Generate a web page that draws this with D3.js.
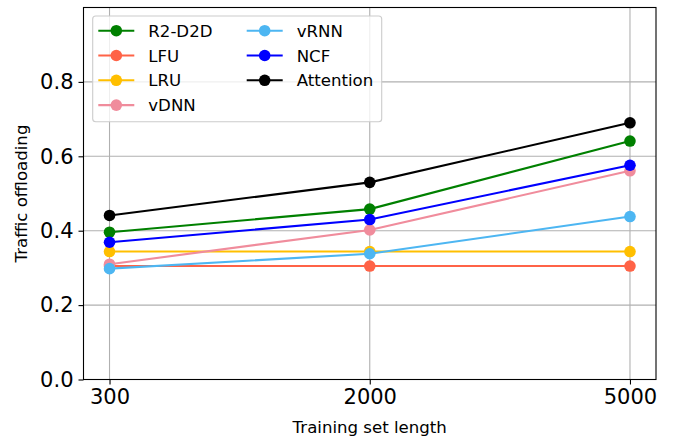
<!DOCTYPE html>
<html>
<head>
<meta charset="utf-8">
<script src="https://cdn.jsdelivr.net/npm/d3@7"></script>
<style>
  body { margin: 0; background: #fff; }
  svg { font-family: "DejaVu Sans", sans-serif; }
</style>
</head>
<body>
<svg id="chart" width="674" height="439"></svg>
<script>
"use strict";

// data
const lengths = ["300", "2000", "5000"];
const seriesNames = ["R2-D2D", "LFU", "LRU", "vDNN", "vRNN", "NCF", "Attention"];
const seriesColors = ["#008000", "#ff6347", "#ffbf00", "#f08c9c", "#4db6f2", "#0000ff", "#000000"];
const r2d2d = [0.396, 0.458, 0.641];
const lfu = [0.305, 0.305, 0.305];
const lru = [0.344, 0.344, 0.344];
const vdnn = [0.310, 0.402, 0.561];
const vrnn = [0.298, 0.338, 0.438];
const ncf = [0.369, 0.430, 0.576];
const attention = [0.441, 0.530, 0.690];
const yTicks = [0.0, 0.2, 0.4, 0.6, 0.8];

const allValues = [r2d2d, lfu, lru, vdnn, vrnn, ncf, attention];

const plotL = 83.5, plotR = 656, plotT = 7.5, plotB = 379.5;
const svg = d3.select("#chart");

// categorical x placed on an index axis with matplotlib-like margins
const x = d3.scaleLinear().domain([-0.1, 2.1]).range([plotL, plotR]);
const y = d3.scaleLinear().domain([0, 1.0]).range([plotB, plotT]);

// grid
svg.append("g")
  .selectAll("line")
  .data(lengths)
  .join("line")
  .attr("x1", (d, i) => x(i)).attr("x2", (d, i) => x(i))
  .attr("y1", plotT).attr("y2", plotB)
  .attr("stroke", "#b0b0b0").attr("stroke-width", 1.1);
svg.append("g")
  .selectAll("line")
  .data(yTicks)
  .join("line")
  .attr("x1", plotL).attr("x2", plotR)
  .attr("y1", d => y(d)).attr("y2", d => y(d))
  .attr("stroke", "#b0b0b0").attr("stroke-width", 1.1);

// axes
const xAxis = svg.append("g")
  .attr("transform", `translate(0,${plotB})`)
  .call(d3.axisBottom(x).tickValues([0, 1, 2]).tickFormat(i => lengths[i]).tickSize(5).tickPadding(5));
const yAxis = svg.append("g")
  .attr("transform", `translate(${plotL},0)`)
  .call(d3.axisLeft(y).tickValues(yTicks).tickFormat(d3.format(".1f")).tickSize(5).tickPadding(5));
[xAxis, yAxis].forEach(a => {
  a.select(".domain").remove();
  a.selectAll("line").attr("stroke", "#000").attr("stroke-width", 1.1);
  a.selectAll("text").attr("font-size", 21).attr("fill", "#000")
    .style("font-family", "DejaVu Sans");
});

// frame
svg.append("rect")
  .attr("x", plotL).attr("y", plotT)
  .attr("width", plotR - plotL).attr("height", plotB - plotT)
  .attr("fill", "none").attr("stroke", "#000").attr("stroke-width", 1.1);

// series
const line = d3.line().x((d, i) => x(i)).y(d => y(d));
allValues.forEach((vals, k) => {
  const g = svg.append("g");
  g.append("path")
    .attr("d", line(vals))
    .attr("fill", "none")
    .attr("stroke", seriesColors[k])
    .attr("stroke-width", 2.1);
  g.selectAll("circle")
    .data(vals)
    .join("circle")
    .attr("cx", (d, i) => x(i))
    .attr("cy", d => y(d))
    .attr("r", 5.8)
    .attr("fill", seriesColors[k]);
});

// axis labels
svg.append("text")
  .attr("x", (plotL + plotR) / 2).attr("y", 433)
  .attr("text-anchor", "middle")
  .attr("font-size", 16.6)
  .text("Training set length");
svg.append("text")
  .attr("transform", `translate(27,${(plotT + plotB) / 2}) rotate(-90)`)
  .attr("text-anchor", "middle")
  .attr("font-size", 16.6)
  .text("Traffic offloading");

// legend
const legend = svg.append("g");
legend.append("rect")
  .attr("x", 92.7).attr("y", 16)
  .attr("width", 289).attr("height", 105.7)
  .attr("rx", 3)
  .attr("fill", "#fff").attr("fill-opacity", 0.8)
  .attr("stroke", "#cccccc").attr("stroke-width", 1.1);
seriesNames.forEach((name, k) => {
  const col = k < 4 ? 0 : 1;
  const row = k < 4 ? k : k - 4;
  const lx = col === 0 ? 98.3 : 246.7;
  const ly = 30.7 + row * 24.8;
  legend.append("line")
    .attr("x1", lx).attr("x2", lx + 36)
    .attr("y1", ly).attr("y2", ly)
    .attr("stroke", seriesColors[k]).attr("stroke-width", 2.1);
  legend.append("circle")
    .attr("cx", lx + 18).attr("cy", ly).attr("r", 5.8)
    .attr("fill", seriesColors[k]);
  legend.append("text")
    .attr("x", lx + 50).attr("y", ly + 6)
    .attr("font-size", 16.6)
    .text(name);
});
</script>
</body>
</html>
